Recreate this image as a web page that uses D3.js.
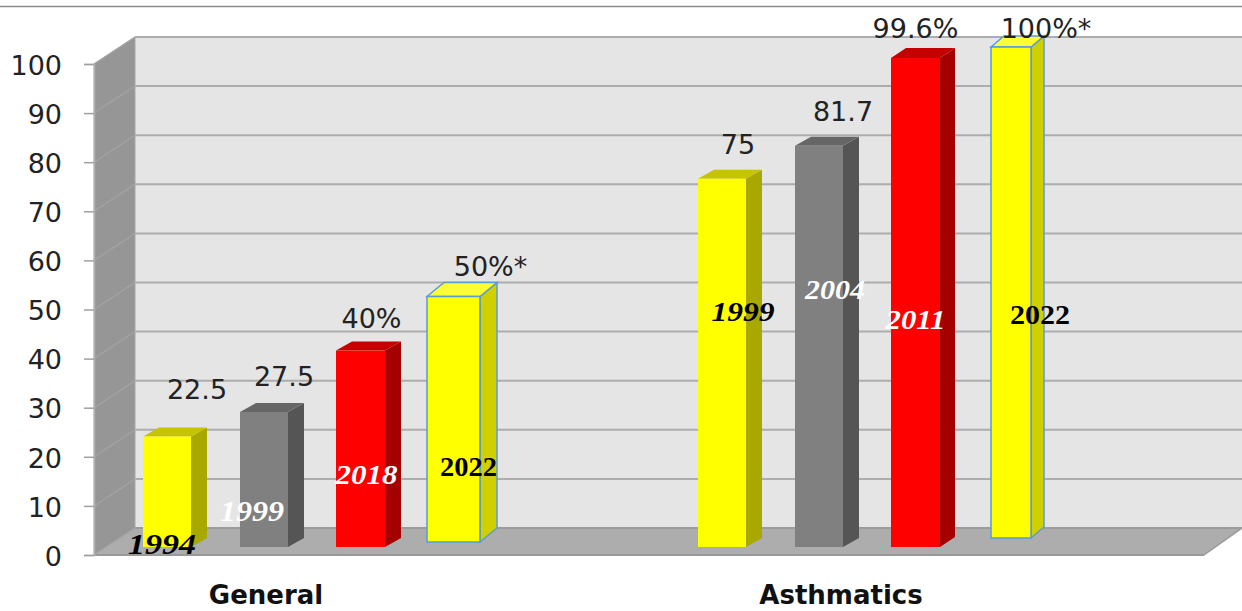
<!DOCTYPE html>
<html>
<head>
<meta charset="utf-8">
<script src="https://cdn.jsdelivr.net/npm/d3@7"></script>
<style>
html, body { margin: 0; padding: 0; background: #fff; overflow: hidden; }
svg { display: block; }
.num { font-family: "DejaVu Sans", sans-serif; font-size: 27px; fill: #222; }
.cat { font-family: "DejaVu Sans", sans-serif; font-weight: bold; font-size: 26px; fill: #111; }
.year { font-family: "Liberation Serif", serif; font-weight: bold; }
</style>
</head>
<body>
<svg id="chart" width="1242" height="611"></svg>
<script>
// Data
const groups = ["General", "Asthmatics"];
const generalValues = [22.5, 27.5, 40, 50];
const asthmaticsValues = [75, 81.7, 99.6, 100];
const generalYears = ["1994", "1999", "2018", "2022"];
const asthmaticsYears = ["1999", "2004", "2011", "2022"];
const valueSuffixes = ["", "", "%", "%*"];
const yTicks = [0, 10, 20, 30, 40, 50, 60, 70, 80, 90, 100];

// Per-slot styling: yellow, grey, red, outlined yellow
const frontColors = ["#ffff00", "#808080", "#ff0000", "#ffff00"];
const sideColors = ["#a8a800", "#555555", "#a50000", "#d0d000"];
const topColors = ["#c4c400", "#666666", "#c40000", "#ffff33"];
const outlineColors = ["none", "none", "none", "#5b9bd5"];

// Chart frame and projection
const W = 1242, H = 611;
const axisX = 94, axisRight = 1204, wallDX = 41, wallDY = 27;
const y = d3.scaleLinear().domain([0, 100]).range([555, 64]);
const xGroup = d3.scalePoint().domain(groups).range([143, 698]);
const xSlot = d3.scalePoint().domain(d3.range(4)).range([0, 291]);

// Bar layout per group and slot
const layout = {
  General: {
    nudge: [0, 0, -1, -7], width: [48, 48, 49, 53], lift: [8, 8, 8, 13],
    depthX: [16, 16, 16, 17], depthY: [9, 9, 9, 14],
    labelDx: [30, 20, 11, 37], labelUp: [38, 26, 23, 21],
    yearDx: [-5, -12, 6, 15], yearBaseline: [1, 34, 71, 79],
    yearSize: [30, 29, 28, 27], yearWidth: [68, 64, 62, 57], yearItalic: [true, true, true, false],
    yearFill: ["#000", "#fff", "#fff", "#000"]
  },
  Asthmatics: {
    nudge: [0, 0, -1, 2], width: [48, 48, 49, 40], lift: [8, 8, 8, 17],
    depthX: [16, 16, 15, 13], depthY: [9, 9, 10, 11],
    labelDx: [16, 24, 0, 35], labelUp: [25, 25, 20, 9],
    yearDx: [21, 16, 0, 29], yearBaseline: [234, 256, 226, 231],
    yearSize: [28, 27, 27, 27], yearWidth: [63, 60, 60, 60], yearItalic: [true, true, true, false],
    yearFill: ["#000", "#fff", "#fff", "#000"]
  }
};
const seriesByGroup = {
  General: { values: generalValues, years: generalYears },
  Asthmatics: { values: asthmaticsValues, years: asthmaticsYears }
};

const svg = d3.select("#chart");
const poly = pts => pts.map(p => p.join(",")).join(" ");

// Rule across the top of the figure
svg.append("line").attr("x1", 0).attr("x2", W).attr("y1", 6.5).attr("y2", 6.5)
  .attr("stroke", "#8a8a8a").attr("stroke-width", 1.5);

// Back wall, side wall, floor
const wallX = axisX + wallDX;
const shell = svg.append("g");
shell.append("polygon")
  .attr("points", poly([[wallX, y(100) - wallDY], [W, y(100) - wallDY], [W, y(0) - wallDY], [wallX, y(0) - wallDY]]))
  .attr("fill", "#e5e5e5");
shell.append("polygon")
  .attr("points", poly([[axisX, y(100)], [wallX, y(100) - wallDY], [wallX, y(0) - wallDY], [axisX, y(0)]]))
  .attr("fill", "#969696").attr("stroke", "#a8a8a8").attr("stroke-width", 1);
shell.append("polygon")
  .attr("points", poly([[axisX, y(0)], [wallX, y(0) - wallDY], [W, y(0) - wallDY], [axisRight, y(0)]]))
  .attr("fill", "#adadad");
shell.append("line").attr("x1", axisX).attr("x2", axisRight).attr("y1", y(0)).attr("y2", y(0))
  .attr("stroke", "#999").attr("stroke-width", 2);
shell.append("line").attr("x1", axisRight).attr("x2", W).attr("y1", y(0)).attr("y2", y(0) - wallDY)
  .attr("stroke", "#999").attr("stroke-width", 1.5);

// Grid lines on the back and side walls
const grid = svg.append("g");
grid.selectAll("line.back").data(yTicks).join("line").attr("class", "back")
  .attr("x1", wallX).attr("x2", W)
  .attr("y1", d => y(d) - wallDY).attr("y2", d => y(d) - wallDY)
  .attr("stroke", d => d === 0 ? "#9c9c9c" : "#adadad").attr("stroke-width", 2);
grid.selectAll("line.side").data(yTicks).join("line").attr("class", "side")
  .attr("x1", axisX).attr("x2", wallX)
  .attr("y1", d => y(d)).attr("y2", d => y(d) - wallDY)
  .attr("stroke", "#a4a4a4").attr("stroke-width", 1.2);

// Value axis
const axis = svg.append("g").attr("transform", `translate(${axisX},0)`)
  .call(d3.axisLeft(y).tickValues(yTicks).tickSize(10).tickPadding(22));
axis.select(".domain").attr("stroke", "#b0b0b0").attr("stroke-width", 1.5);
axis.selectAll(".tick line").attr("stroke", "#a0a0a0").attr("stroke-width", 1.5);
axis.selectAll(".tick text").attr("class", "num").attr("dy", "0.38em");

// Flatten the series into one record per bar
const bars = groups.flatMap(g => seriesByGroup[g].values.map((value, i) => {
  const l = layout[g];
  const left = xGroup(g) + xSlot(i) + l.nudge[i];
  const w = l.width[i];
  const dx = l.depthX[i], dy = l.depthY[i];
  const base = y(0) - l.lift[i];
  const top = y(value) - l.lift[i];
  return {
    g, i, value, year: seriesByGroup[g].years[i], left, w, dx, dy, base, top,
    label: value + valueSuffixes[i],
    labelX: left + w / 2 + l.labelDx[i],
    labelY: top - l.labelUp[i],
    yearX: left + w / 2 + l.yearDx[i],
    yearY: y(0) - l.yearBaseline[i],
    yearSize: l.yearSize[i], yearWidth: l.yearWidth[i],
    yearItalic: l.yearItalic[i], yearFill: l.yearFill[i]
  };
}));

// Extruded bars: side face, top face, front face
const barG = svg.append("g").selectAll("g").data(bars).join("g");
barG.each(function (d) {
  const s = d3.select(this);
  const stroke = outlineColors[d.i];
  const sw = stroke === "none" ? 0 : 1.5;
  const r = d.left + d.w;
  s.append("polygon")
    .attr("points", poly([[r, d.top], [r + d.dx, d.top - d.dy], [r + d.dx, d.base - d.dy], [r, d.base]]))
    .attr("fill", sideColors[d.i]).attr("stroke", stroke).attr("stroke-width", sw);
  s.append("polygon")
    .attr("points", poly([[d.left, d.top], [d.left + d.dx, d.top - d.dy], [r + d.dx, d.top - d.dy], [r, d.top]]))
    .attr("fill", topColors[d.i]).attr("stroke", stroke).attr("stroke-width", sw);
  s.append("rect")
    .attr("x", d.left).attr("y", d.top).attr("width", d.w).attr("height", d.base - d.top)
    .attr("fill", frontColors[d.i]).attr("stroke", stroke).attr("stroke-width", sw);
});

// Value labels above the bars
svg.append("g").selectAll("text").data(bars).join("text")
  .attr("class", "num").attr("text-anchor", "middle")
  .attr("x", d => d.labelX).attr("y", d => d.labelY)
  .text(d => d.label);

// Survey year written on each bar
svg.append("g").selectAll("text").data(bars).join("text")
  .attr("class", "year").attr("text-anchor", "middle")
  .attr("x", d => d.yearX).attr("y", d => d.yearY)
  .attr("font-size", d => d.yearSize)
  .attr("font-style", d => d.yearItalic ? "italic" : "normal")
  .attr("textLength", d => d.yearWidth)
  .attr("lengthAdjust", "spacingAndGlyphs")
  .attr("fill", d => d.yearFill)
  .text(d => d.year);

// Group names under the floor
const catCentre = { General: 266, Asthmatics: 841 };
svg.append("g").selectAll("text").data(groups).join("text")
  .attr("class", "cat").attr("text-anchor", "middle")
  .attr("x", d => catCentre[d]).attr("y", 604)
  .text(d => d);
</script>
</body>
</html>
